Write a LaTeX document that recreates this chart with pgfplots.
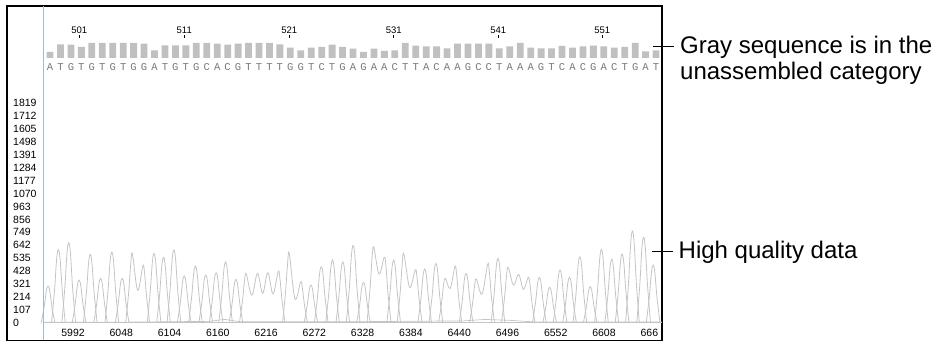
\documentclass[border=0pt]{standalone}
\usepackage{pgfplots}
\pgfplotsset{compat=1.18}
\usepackage{fontspec}
\setmainfont{Liberation Sans}
\newfontfamily\monofont{Liberation Mono}
\definecolor{trace}{RGB}{196,196,196}
\definecolor{bargray}{RGB}{192,192,192}
\definecolor{lettergray}{RGB}{120,120,120}
\definecolor{innerline}{RGB}{165,185,205}
\begin{document}
\begin{tikzpicture}
\path[use as bounding box] (0,0) rectangle (935pt,343pt);
% ---------------- chromatogram ----------------
\begin{axis}[
  at={(7pt,2.5pt)}, anchor=south west, scale only axis,
  width=655pt, height=334.5pt,
  xmin=5915.4, xmax=6675.3, ymin=-144, ymax=2618,
  axis line style={black, line width=1.1pt},
  xtick={5992,6048,6104,6160,6216,6272,6328,6384,6440,6496,6552,6608,6664},
  xticklabels={5992,6048,6104,6160,6216,6272,6328,6384,6440,6496,6552,6608,666\phantom{4}},
  ytick={0,107,214,321,428,535,642,749,856,963,1070,1177,1284,1391,1498,1605,1712,1819},
  yticklabels={0,107,214,321,428,535,642,749,856,963,1070,1177,1284,1391,1498,1605,1712,1819},
  tick style={draw=none}, major tick length=0pt,
  xticklabel style={anchor=south, inner sep=0pt, yshift=3.5pt, font=\fontsize{10.5}{12}\selectfont},
  yticklabel style={anchor=west, inner sep=0pt, xshift=6pt, font=\fontsize{10.5}{12}\selectfont},
  unbounded coords=jump,
]
% baselines
\addplot[trace, line width=0.7pt] coordinates {(5958,6)(6060,8)(6150,14)(6168,30)(6185,12)(6300,10)(6445,18)(6470,30)(6500,22)(6530,8)(6675,10)};
\addplot[trace, line width=0.7pt] coordinates {(5958,2)(6675,2)};
% A channel
\addplot[trace, line width=0.8pt, smooth, tension=0.6] coordinates {
(5955,0)(5958.5,134)(5961,265)(5963,305)(5965,265)(5967.5,134)(5971,0)(5972,nan)
(6078,0)(6081.5,253)(6084,500)(6086,575)(6088,500)(6090.5,253)(6094,0)(6095,nan)
(6150,0)(6153.5,183)(6156,361)(6158,415)(6160,361)(6162.5,183)(6166,0)(6167,nan)
(6309,0)(6312.5,282)(6315,558)(6317,641)(6319,558)(6321.5,282)(6325,0)(6326,nan)
(6333,0)(6336.5,275)(6339,544)(6341,625)(6347,405)(6353,543)(6355,472)(6357.5,239)(6361,0)(6362,nan)
(6392,0)(6395.5,196)(6398,388)(6400,446)(6402,388)(6404.5,196)(6408,0)(6409,nan)
(6416,0)(6419.5,162)(6422,321)(6424,369)(6429.5,286)(6435,465)(6437,405)(6439.5,205)(6443,0)(6444,nan)
(6489,0)(6492.5,201)(6495,398)(6497,457)(6503,314)(6509,402)(6514.5,278)(6520,377)(6522,328)(6524.5,166)(6528,0)(6529,nan)
(6560,0)(6563.5,166)(6566,328)(6568,377)(6570,328)(6572.5,166)(6576,0)(6577,nan)
(6597,0)(6600.5,268)(6603,529)(6605,608)(6607,529)(6609.5,268)(6613,0)(6614,nan)
(6646,0)(6649.5,312)(6652,616)(6654,708)(6656,616)(6658.5,312)(6662,0)
};
% C channel
\addplot[trace, line width=0.8pt, smooth, tension=0.6] coordinates {
(6138,0)(6141.5,174)(6144,345)(6146,396)(6148,345)(6150.5,174)(6154,0)(6155,nan)
(6161,0)(6164.5,223)(6167,440)(6169,506)(6171,440)(6173.5,223)(6177,0)(6178,nan)
(6272,0)(6275.5,205)(6278,405)(6280,465)(6282,405)(6284.5,205)(6288,0)(6289,nan)
(6356,0)(6359.5,229)(6362,452)(6364,520)(6366,452)(6368.5,229)(6372,0)(6373,nan)
(6405,0)(6408.5,217)(6411,429)(6413,493)(6415,429)(6417.5,217)(6421,0)(6422,nan)
(6452,0)(6455.5,159)(6458,314)(6460,361)(6466.5,240)(6473,485)(6475,422)(6477.5,213)(6481,0)(6482,nan)
(6549,0)(6552.5,193)(6555,381)(6557,438)(6559,381)(6561.5,193)(6565,0)(6566,nan)
(6572,0)(6575.5,241)(6578,477)(6580,548)(6582,477)(6584.5,241)(6588,0)(6589,nan)
(6609,0)(6612.5,231)(6615,458)(6617,526)(6619,458)(6621.5,231)(6625,0)
};
% G channel
\addplot[trace, line width=0.8pt, smooth, tension=0.6] coordinates {
(5979,0)(5982.5,292)(5985,577)(5987,663)(5989,577)(5991.5,292)(5995,0)(5996,nan)
(6004,0)(6007.5,249)(6010,493)(6012,567)(6014,493)(6016.5,249)(6020,0)(6021,nan)
(6029,0)(6032.5,258)(6035,510)(6037,586)(6039,510)(6041.5,258)(6045,0)(6046,nan)
(6053,0)(6056.5,249)(6059,493)(6061,567)(6067,270)(6073,471)(6075,410)(6077.5,207)(6081,0)(6082,nan)
(6101,0)(6104.5,265)(6107,525)(6109,603)(6111,525)(6113.5,265)(6117,0)(6118,nan)
(6126,0)(6129.5,207)(6132,410)(6134,471)(6136,410)(6138.5,207)(6142,0)(6143,nan)
(6173,0)(6176.5,159)(6179,314)(6181,361)(6183,314)(6185.5,159)(6189,0)(6190,nan)
(6235,0)(6238.5,251)(6241,496)(6243,570)(6249.5,200)(6256,339)(6258,295)(6260.5,149)(6264,0)(6265,nan)
(6297,0)(6300.5,223)(6303,440)(6305,506)(6307,440)(6309.5,223)(6313,0)(6314,nan)
(6321,0)(6324.5,148)(6327,292)(6329,336)(6331,292)(6333.5,148)(6337,0)(6338,nan)
(6440,0)(6443.5,180)(6446,357)(6448,410)(6450,357)(6452.5,180)(6456,0)(6457,nan)
(6525,0)(6528.5,166)(6531,328)(6533,377)(6535,328)(6537.5,166)(6541,0)(6542,nan)
(6584,0)(6587.5,132)(6590,261)(6592,300)(6594,261)(6596.5,132)(6600,0)(6601,nan)
(6633,0)(6636.5,334)(6639,661)(6641,760)(6643,661)(6645.5,334)(6649,0)
};
% T channel
\addplot[trace, line width=0.8pt, smooth, tension=0.6] coordinates {
(5967,0)(5970.5,268)(5973,529)(5975,608)(5977,529)(5979.5,268)(5983,0)(5984,nan)
(5991,0)(5994.5,156)(5997,309)(5999,355)(6001,309)(6003.5,156)(6007,0)(6008,nan)
(6016,0)(6019.5,162)(6022,321)(6024,369)(6026,321)(6028.5,162)(6032,0)(6033,nan)
(6041,0)(6044.5,162)(6047,321)(6049,369)(6051,321)(6053.5,162)(6057,0)(6058,nan)
(6089,0)(6092.5,239)(6095,472)(6097,543)(6099,472)(6101.5,239)(6105,0)(6106,nan)
(6113,0)(6116.5,171)(6119,338)(6121,388)(6123,338)(6125.5,171)(6129,0)(6130,nan)
(6185,0)(6188.5,178)(6191,352)(6193,405)(6199.5,231)(6206,410)(6212,245)(6218,415)(6224,240)(6230,424)(6232,369)(6234.5,187)(6238,0)(6239,nan)
(6260,0)(6263.5,138)(6266,273)(6268,314)(6270,273)(6272.5,138)(6276,0)(6277,nan)
(6285,0)(6288.5,229)(6291,452)(6293,520)(6295,452)(6297.5,229)(6301,0)(6302,nan)
(6368,0)(6371.5,249)(6374,493)(6376,567)(6382.5,295)(6389,438)(6391,381)(6393.5,193)(6397,0)(6398,nan)
(6477,0)(6480.5,235)(6483,465)(6485,534)(6487,465)(6489.5,235)(6493,0)(6494,nan)
(6537,0)(6540.5,130)(6543,257)(6545,295)(6547,257)(6549.5,130)(6553,0)(6554,nan)
(6621,0)(6624.5,251)(6627,496)(6629,570)(6631,496)(6633.5,251)(6637,0)(6638,nan)
(6657,0)(6660.5,211)(6663,417)(6665,479)(6667,417)(6669.5,211)(6673,0)
};
\draw[innerline, line width=1pt] (axis cs:5957.5,-144) -- (axis cs:5957.5,2618);
\end{axis}
% ---------------- sequence panel ----------------
\begin{axis}[
  at={(7pt,285pt)}, anchor=south west, scale only axis,
  width=655pt, height=20pt,
  xmin=-3.115, xmax=59.565, ymin=0, ymax=20,
  axis line style={draw=none},
  ytick=\empty,
  xtick pos=right, xticklabel pos=right,
  xtick={3.8,13.85,23.9,33.9,43.9,53.85},
  xticklabels={501,511,521,531,541,551},
  tick align=outside, major tick length=3pt,
  xtick style={black, line width=0.8pt},
  xticklabel style={anchor=south, inner sep=0pt, yshift=1.4pt, font=\fontsize{9.5}{10}\selectfont},
  clip=false,
]
\addplot[ybar, bar width=6.8pt, fill=bargray, draw=none] coordinates {
(1,6)(2,13.7)(3,13.3)(4,11)(5,15)(6,15)(7,15)(8,15)(9,15)(10,14.3)
(11,7.7)(12,12.7)(13,12.7)(14,12.7)(15,15)(16,15)(17,14.3)(18,13.3)(19,14.3)(20,15)
(21,15)(22,15)(23,13.7)(24,10.3)(25,7.7)(26,10.3)(27,11)(28,13.3)(29,11)(30,9.3)
(31,6)(32,9.3)(33,7)(34,7.7)(35,15)(36,12.3)(37,11.7)(38,11.7)(39,9.7)(40,14.3)
(41,14.3)(42,14.3)(43,14.3)(44,9.7)(45,11.7)(46,15)(47,10.3)(48,9.7)(49,9.7)(50,12)
(51,10.3)(52,11.7)(53,12.3)(54,11.7)(55,10.3)(56,11)(57,15)(58,6.7)(59,7.7)
};
\addplot[draw=none, mark=none, nodes near coords, point meta=explicit symbolic,
  nodes near coords align={anchor=center},
  every node near coord/.append style={inner sep=0pt, font=\monofont\fontsize{10.5}{10.5}\selectfont, text=lettergray}]
coordinates {
(1,-9)[A](2,-9)[T](3,-9)[G](4,-9)[T](5,-9)[G](6,-9)[T](7,-9)[G](8,-9)[T](9,-9)[G](10,-9)[G]
(11,-9)[A](12,-9)[T](13,-9)[G](14,-9)[T](15,-9)[G](16,-9)[C](17,-9)[A](18,-9)[C](19,-9)[G](20,-9)[T]
(21,-9)[T](22,-9)[T](23,-9)[T](24,-9)[G](25,-9)[G](26,-9)[T](27,-9)[C](28,-9)[T](29,-9)[G](30,-9)[A]
(31,-9)[G](32,-9)[A](33,-9)[A](34,-9)[C](35,-9)[T](36,-9)[T](37,-9)[A](38,-9)[C](39,-9)[A](40,-9)[A]
(41,-9)[G](42,-9)[C](43,-9)[C](44,-9)[T](45,-9)[A](46,-9)[A](47,-9)[A](48,-9)[G](49,-9)[T](50,-9)[C]
(51,-9)[A](52,-9)[C](53,-9)[G](54,-9)[A](55,-9)[C](56,-9)[T](57,-9)[G](58,-9)[A](59,-9)[T]
};
\end{axis}
% ---------------- annotations ----------------
\draw[line width=1.6pt] (653pt,296.3pt) -- (674pt,296.3pt);
\draw[line width=1.6pt] (652pt,91.3pt) -- (673pt,91.3pt);
\node[anchor=base west, inner sep=0pt, font=\fontsize{24}{26}\selectfont] at (680pt,289pt) {Gray sequence is in the};
\node[anchor=base west, inner sep=0pt, font=\fontsize{24}{26}\selectfont] at (680pt,263pt) {unassembled category};
\node[anchor=base west, inner sep=0pt, font=\fontsize{24}{26}\selectfont] at (678.5pt,84.7pt) {High quality data};
\end{tikzpicture}
\end{document}
